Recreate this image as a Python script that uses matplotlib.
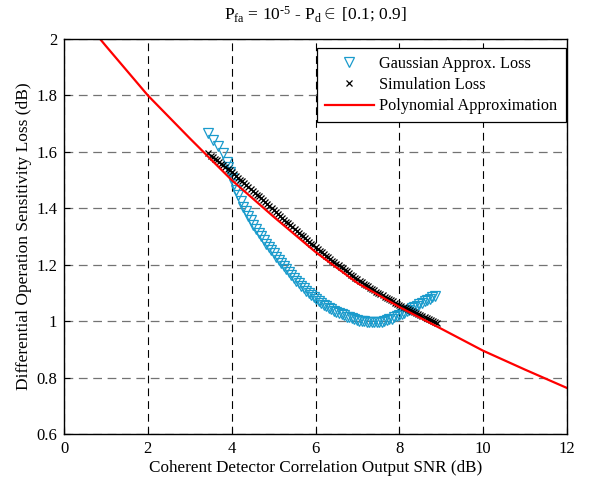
import matplotlib
matplotlib.use("Agg")
import matplotlib.pyplot as plt

plt.rcParams['font.family'] = ['Liberation Serif', 'DejaVu Serif']
plt.rcParams['mathtext.fontset'] = 'custom'
plt.rcParams['mathtext.rm'] = 'Liberation Serif'
plt.rcParams['mathtext.it'] = 'Liberation Serif:italic'
plt.rcParams['font.size'] = 12

# Gaussian approximation loss (triangles)
gauss_snr = [3.44, 3.56, 3.68, 3.80, 3.88, 3.92, 3.96,
             4.01, 4.06, 4.11, 4.16, 4.22, 4.28, 4.34, 4.40, 4.46, 4.52, 4.58, 4.64, 4.70, 4.76, 4.82, 4.88, 4.94,
             5.00, 5.06, 5.12, 5.18, 5.24, 5.30, 5.36, 5.42, 5.48, 5.54, 5.60, 5.66, 5.72, 5.78, 5.84, 5.90, 5.96,
             6.02, 6.08, 6.14, 6.20, 6.26, 6.32, 6.38, 6.44, 6.50, 6.56, 6.62, 6.68, 6.74, 6.80, 6.86, 6.92, 6.98,
             7.04, 7.10, 7.16, 7.22, 7.28, 7.34, 7.40, 7.46, 7.52, 7.58, 7.64, 7.70, 7.76, 7.82, 7.88, 7.94,
             8.00, 8.06, 8.12, 8.18, 8.24, 8.30, 8.36, 8.42, 8.48, 8.54, 8.60, 8.66, 8.72, 8.78, 8.85]
gauss_loss = [1.668, 1.643, 1.621, 1.595, 1.563, 1.546, 1.528,
              1.506, 1.485, 1.465, 1.446, 1.426, 1.406, 1.389, 1.372, 1.357, 1.342, 1.327, 1.313, 1.300, 1.287, 1.274, 1.262, 1.251,
              1.240, 1.228, 1.217, 1.206, 1.195, 1.184, 1.174, 1.164, 1.154, 1.144, 1.135, 1.126, 1.117, 1.108, 1.100, 1.092, 1.085,
              1.078, 1.071, 1.064, 1.058, 1.052, 1.047, 1.042, 1.037, 1.032, 1.028, 1.024, 1.020, 1.016, 1.013, 1.010, 1.007, 1.004,
              1.002, 1.000, 0.999, 0.998, 0.997, 0.996, 0.996, 0.996, 0.997, 0.998, 1.000, 1.003, 1.006, 1.009, 1.013, 1.017,
              1.021, 1.025, 1.030, 1.035, 1.040, 1.045, 1.050, 1.055, 1.060, 1.065, 1.070, 1.075, 1.079, 1.084, 1.089]

# Simulation loss (crosses)
sim_snr = [3.43, 3.50, 3.55, 3.60, 3.65, 3.70, 3.75, 3.80, 3.85, 3.90, 3.95,
           4.00, 4.05, 4.10, 4.15, 4.20, 4.25, 4.30, 4.35, 4.40, 4.45, 4.50, 4.55, 4.60, 4.65, 4.70, 4.75, 4.80, 4.85, 4.90, 4.95,
           5.00, 5.05, 5.10, 5.15, 5.20, 5.25, 5.30, 5.35, 5.40, 5.45, 5.50, 5.55, 5.60, 5.65, 5.70, 5.75, 5.80, 5.85, 5.90, 5.95,
           6.00, 6.05, 6.10, 6.15, 6.20, 6.25, 6.30, 6.35, 6.40, 6.45, 6.50, 6.55, 6.60, 6.65, 6.70, 6.75, 6.80, 6.85, 6.90, 6.95,
           7.00, 7.05, 7.10, 7.15, 7.20, 7.25, 7.30, 7.35, 7.40, 7.45, 7.50, 7.55, 7.60, 7.65, 7.70, 7.75, 7.80, 7.85, 7.90, 7.95,
           8.00, 8.05, 8.10, 8.15, 8.20, 8.25, 8.30, 8.35, 8.40, 8.45, 8.50, 8.55, 8.60, 8.65, 8.70, 8.75, 8.80, 8.85, 8.89]
sim_loss = [1.595, 1.587, 1.581, 1.575, 1.570, 1.564, 1.558, 1.552, 1.546, 1.540, 1.534,
            1.528, 1.522, 1.515, 1.509, 1.502, 1.496, 1.489, 1.483, 1.476, 1.469, 1.462, 1.455, 1.448, 1.442, 1.435, 1.428, 1.421, 1.414, 1.407, 1.400,
            1.393, 1.387, 1.380, 1.374, 1.367, 1.360, 1.353, 1.347, 1.340, 1.333, 1.326, 1.320, 1.313, 1.307, 1.301, 1.295, 1.288, 1.282, 1.275, 1.269,
            1.262, 1.256, 1.250, 1.244, 1.238, 1.232, 1.226, 1.220, 1.214, 1.209, 1.203, 1.198, 1.192, 1.187, 1.181, 1.176, 1.170, 1.165, 1.159, 1.154,
            1.148, 1.143, 1.138, 1.133, 1.128, 1.123, 1.118, 1.114, 1.109, 1.105, 1.100, 1.096, 1.091, 1.087, 1.082, 1.078, 1.074, 1.070, 1.066, 1.062,
            1.058, 1.055, 1.051, 1.048, 1.044, 1.040, 1.036, 1.033, 1.029, 1.026, 1.022, 1.019, 1.015, 1.012, 1.008, 1.005, 1.001, 0.998, 0.995]

# Polynomial approximation (red line)
poly_snr = [0.86, 1, 2, 3, 4, 5, 6, 7, 8, 9, 10, 11, 12]
poly_loss = [2.0, 1.975, 1.80, 1.648, 1.50, 1.37, 1.245, 1.135, 1.05, 0.973, 0.895, 0.828, 0.763]

xticks = [0, 2, 4, 6, 8, 10, 12]
yticks = [0.6, 0.8, 1.0, 1.2, 1.4, 1.6, 1.8, 2.0]
ytick_labels = ['0.6', '0.8', '1', '1.2', '1.4', '1.6', '1.8', '2']

fig = plt.figure(figsize=(5.89, 4.82), dpi=100)
ax = fig.add_axes([0.1087, 0.0996, 0.854, 0.8195])

ax.plot(gauss_snr, gauss_loss, linestyle='none', marker='v', markersize=7.5,
        markerfacecolor='none', markeredgecolor='#1a9bcc', markeredgewidth=0.9,
        label='Gaussian Approx. Loss')
ax.plot(sim_snr, sim_loss, linestyle='none', marker='x', markersize=4,
        color='k', markeredgewidth=0.9, label='Simulation Loss')
ax.plot(poly_snr, poly_loss, color='#ff0000', linewidth=1.6, label='Polynomial Approximation')

ax.set_xlim(0, 12)
ax.set_ylim(0.6, 2)
ax.set_xticks(xticks)
ax.set_yticks(yticks)
ax.set_yticklabels(ytick_labels)
ax.tick_params(direction='in', length=4, labelsize=12, pad=5)

ax.xaxis.grid(True, color='k', linestyle=(0, (7, 4.5)), linewidth=0.8)
ax.yaxis.grid(True, color='0.45', linestyle=(0, (7, 4.5)), linewidth=0.9)
ax.set_axisbelow(True)
for s in ax.spines.values():
    s.set_linewidth(1.0)

ax.set_xlabel('Coherent Detector Correlation Output SNR (dB)', fontsize=12.3, labelpad=2)
ax.set_ylabel('Differential Operation Sensitivity Loss (dB)', fontsize=12.5, labelpad=3)
ax.set_title(r'P$_{\mathrm{fa}}$ = 10$^{\text{-5}}$ - P$_{\mathrm{d}}$$\in$ [0.1; 0.9]', fontsize=12.5, pad=14)

leg = ax.legend(loc='upper right', bbox_to_anchor=(0.997, 0.978), fontsize=11.7,
                handlelength=3.0, labelspacing=0.32, borderpad=0.5, handletextpad=0.35,
                fancybox=False, framealpha=1, edgecolor='k', borderaxespad=0)
leg.get_frame().set_linewidth(0.9)

fig.savefig('out.png', dpi=100)
